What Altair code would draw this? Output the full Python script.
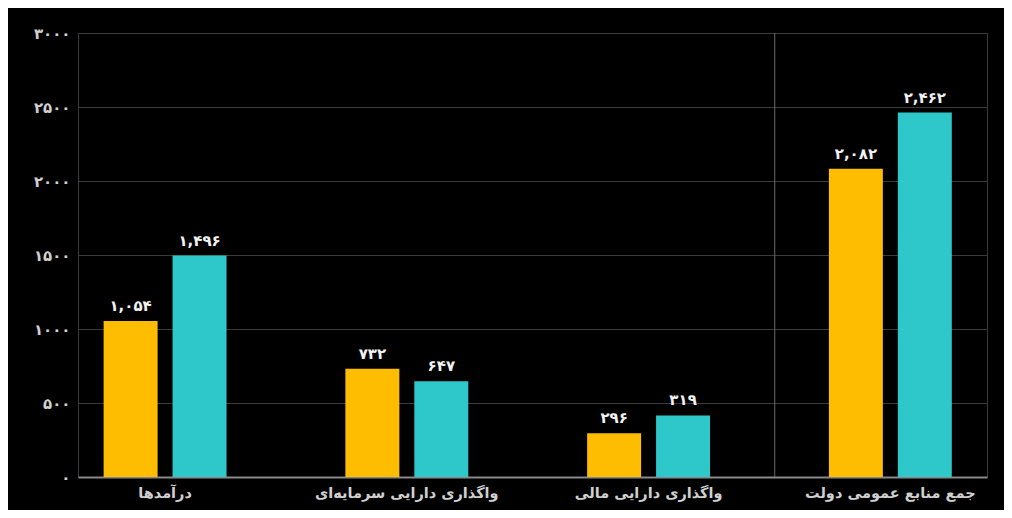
import altair as alt
import pandas as pd

categories = ["درآمدها", "واگذاری دارایی سرمایه‌ای", "واگذاری دارایی مالی", "جمع منابع عمومی دولت"]
series = ["الف", "ب"]
values_a = [1054, 732, 296, 2082]
values_b = [1496, 647, 416, 2462]
labels_a = ["۱,۰۵۴", "۷۳۲", "۲۹۶", "۲,۰۸۲"]
labels_b = ["۱,۴۹۶", "۶۴۷", "۳۱۹", "۲,۴۶۲"]
y_ticks = [0, 500, 1000, 1500, 2000, 2500, 3000]
y_tick_labels = ["۰", "۵۰۰", "۱۰۰۰", "۱۵۰۰", "۲۰۰۰", "۲۵۰۰", "۳۰۰۰"]
colors = ["#FFBD00", "#2EC8CA"]

rows = []
for i, c in enumerate(categories):
    rows.append({"cat": c, "s": series[0], "v": values_a[i], "lab": labels_a[i]})
    rows.append({"cat": c, "s": series[1], "v": values_b[i], "lab": labels_b[i]})
df = pd.DataFrame(rows)
cat_df = pd.DataFrame({"cat": categories, "zero": [0] * len(categories)})

expr = "''"
for t, l in reversed(list(zip(y_ticks, y_tick_labels))):
    expr = f"datum.value == {t} ? '{l}' : ({expr})"

FONT = "DejaVu Sans"

xscale = alt.Scale(domain=categories, paddingInner=0.3, paddingOuter=0.03, align=0.17)
yscale = alt.Scale(domain=[0, 3000], nice=False)

x = alt.X("cat:N", scale=xscale, sort=categories, title=None,
          axis=alt.Axis(labels=False, ticks=False, domainColor="#8a8a8a",
                        domainWidth=2, grid=False))
y = alt.Y("v:Q", scale=yscale, title=None,
          axis=alt.Axis(values=y_ticks, labelExpr=expr, labelFont=FONT, labelFontSize=15,
                        labelFontWeight="bold", labelColor="#d0d0d0", labelPadding=8, ticks=False,
                        domain=False, grid=True, gridColor="#3a3a3a", gridWidth=1))
xo = alt.XOffset("s:N", sort=series, scale=alt.Scale(paddingInner=0.217, paddingOuter=0.336))

base = alt.Chart(df)

bars = base.mark_bar().encode(
    x=x, xOffset=xo, y=y,
    color=alt.Color("s:N", sort=series, scale=alt.Scale(domain=series, range=colors), legend=None),
)

text = base.mark_text(baseline="bottom", dy=-7, font=FONT, fontSize=15, fontWeight="bold",
                      color="#f2f2f2").encode(
    x=alt.X("cat:N", scale=xscale, sort=categories), xOffset=xo,
    y=alt.Y("v:Q", scale=yscale), text="lab:N")

cat_text = alt.Chart(cat_df).mark_text(baseline="top", align="center", dir="rtl", dy=10,
                                       font=FONT, fontSize=14.5, fontWeight="bold",
                                       color="#d0d0d0").encode(
    x=alt.X("cat:N", scale=xscale, sort=categories),
    y=alt.Y("zero:Q", scale=yscale), text="cat:N")

sep_df = pd.DataFrame({"cat": [categories[3]], "y0": [0], "y1": [3000]})
sep = alt.Chart(sep_df).mark_rule(color="#6a6a6a", strokeWidth=1, xOffset=-31).encode(
    x=alt.X("cat:N", scale=xscale, sort=categories, bandPosition=0),
    y=alt.Y("y0:Q", scale=yscale), y2="y1:Q")

chart = alt.layer(sep, bars, text, cat_text).properties(
    width=909, height=444, autosize="none",
    padding={"left": 70, "top": 25, "right": 17, "bottom": 33},
    background="#000000",
).configure_view(stroke="#3a3a3a", strokeWidth=1)

chart.save("out.html", embed_options={"renderer": "svg", "actions": False})
